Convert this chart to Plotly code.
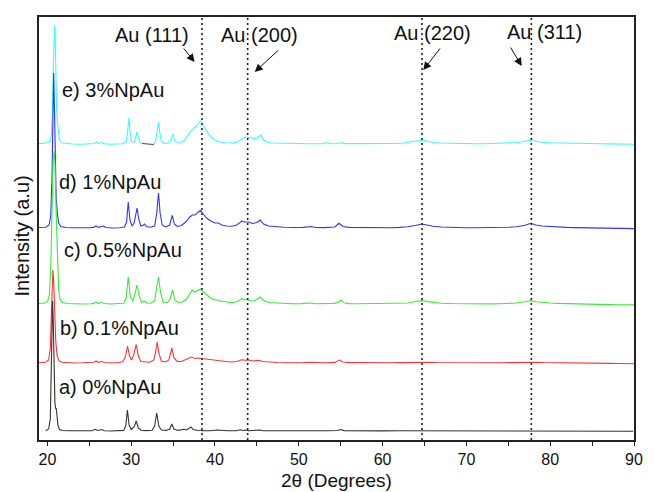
import plotly.graph_objects as go

# XRD patterns: (2theta, intensity above the pattern's own baseline, a.u.)
pattern_a = [
    [19.8, 0.3], [20.15, 2], [20.35, 12], [20.45, 45], [20.55, 105], [20.62, 130], [20.7, 110],
    [20.8, 55], [20.9, 28], [21.0, 22], [21.05, 23], [21.12, 18], [21.25, 6], [21.45, 1.5],
    [21.8, 0.5], [22.5, 0.2], [23.5, 0], [24.5, 0.1], [25.3, 0.3], [25.7, 1.7], [26.0, 0.5],
    [26.5, 1.5], [26.8, 0.3], [27.6, 0], [28.5, 0.2], [29.1, 0.6], [29.35, 5], [29.55, 21],
    [29.75, 6], [30.0, 1.5], [30.35, 4], [30.6, 10], [30.85, 3], [31.2, 0.7], [31.8, 0.4],
    [32.5, 0.8], [32.8, 5], [33.05, 18], [33.3, 5], [33.6, 1], [34.2, 0.6], [34.6, 2],
    [34.85, 7], [35.1, 2], [35.6, 0.6], [36.3, 1.8], [36.6, 1], [36.9, 2.5], [37.15, 4],
    [37.4, 1.5], [37.9, 0.7], [38.6, 0.4], [39.4, 0.3], [40.3, 1], [40.8, 0.4], [41.5, 0.3],
    [42.5, 0.2], [43.0, 1.2], [43.3, 0.5], [43.6, 1], [44.0, 0.3], [44.7, 0.4], [45.3, 1],
    [45.8, 0.3], [46.8, 0.2], [48.0, 0.4], [49.0, 0.2], [50.0, 0.2], [51.5, 0.4], [52.5, 0.1],
    [53.5, 0.2], [54.6, 0.5], [55.0, 1.5], [55.4, 0.4], [56.5, 0.2], [57.5, 0.4], [58.5, 0.2],
    [60.0, 0.1], [62.0, 0.2], [64.0, 0.2], [66.0, 0.1], [68.0, 0], [70.0, 0.1], [72.0, 0],
    [74.0, 0.1], [76.0, 0], [78.0, 0.1], [80.0, 0], [82.0, 0], [84.0, -0.1], [86.0, -0.1],
    [88.0, -0.2], [89.9, -0.2],
]

pattern_b = [
    [19.0, 0.3], [19.8, 0.8], [20.15, 3], [20.35, 15], [20.5, 55], [20.6, 85], [20.66, 93],
    [20.75, 82], [20.85, 52], [21.0, 22], [21.15, 8], [21.35, 2.5], [21.7, 0.8], [22.3, 0.3],
    [23.2, 0], [24.2, 0.2], [25.2, 0.4], [25.55, 0.8], [25.8, 2], [26.05, 0.7], [26.5, 1.5],
    [26.8, 0.5], [27.6, 0.2], [28.4, 0.3], [29.0, 1.2], [29.3, 6], [29.57, 17], [29.8, 7],
    [30.05, 3], [30.3, 8], [30.6, 18.5], [30.85, 7], [31.15, 1.5], [31.6, 1], [32.2, 0.8],
    [32.7, 3], [32.9, 10], [33.1, 21], [33.3, 10], [33.6, 2], [34.1, 1], [34.5, 3],
    [34.85, 15], [35.1, 5], [35.5, 1.5], [36.0, 1.5], [36.6, 3.5], [37.2, 6], [37.6, 4.5],
    [38.0, 5], [38.4, 4.5], [38.9, 4], [39.4, 3], [40.0, 2.2], [40.4, 2.5], [41.0, 1.5],
    [41.8, 1], [42.6, 1.5], [43.2, 3.3], [43.6, 2.8], [44.0, 3], [44.6, 2], [45.2, 2.8],
    [45.7, 1.5], [46.5, 0.8], [47.5, 0.5], [48.5, 0.3], [49.5, 0.2], [50.5, 0.4], [51.3, 0.8],
    [52.2, 0.3], [53.2, 0.2], [54.3, 0.6], [54.85, 3], [55.3, 1], [56.0, 0.4], [57.0, 0.5],
    [58.0, 0.3], [59.0, 0.2], [60.0, 0.3], [61.0, 0.2], [62.0, 0.4], [63.0, 0.5], [64.0, 0.9],
    [64.8, 1.2], [65.6, 0.8], [66.5, 0.5], [67.5, 0.4], [68.5, 0.2], [69.5, 0.3], [70.5, 0.2],
    [71.5, 0.1], [72.5, 0.2], [73.5, 0.1], [74.5, 0.3], [75.5, 0.4], [76.5, 0.6], [77.5, 1],
    [78.3, 0.8], [79.2, 0.5], [80.2, 0.3], [81.2, 0.2], [82.2, 0.1], [83.2, 0], [84.2, -0.1],
    [85.2, -0.2], [86.2, -0.3], [87.2, -0.4], [88.2, -0.5], [89.2, -0.6], [90.0, -0.8],
]

pattern_c = [
    [19.0, 0.5], [19.7, 1], [20.05, 3], [20.25, 10], [20.4, 35], [20.55, 95], [20.7, 145],
    [20.8, 153], [20.9, 140], [21.05, 90], [21.2, 40], [21.35, 14], [21.5, 5], [21.8, 1.5],
    [22.4, 0.5], [23.2, 0.2], [24.2, 0], [25.2, 0.3], [25.55, 0.6], [25.8, 2], [26.05, 0.7],
    [26.5, 1.5], [26.8, 0.5], [27.6, 0], [28.4, 0.2], [29.1, 0.8], [29.4, 6], [29.65, 27],
    [29.9, 7], [30.2, 3], [30.45, 10], [30.7, 19], [30.95, 8], [31.25, 1.5], [31.6, 3],
    [31.85, 1], [32.3, 0.8], [32.8, 3], [33.05, 17], [33.26, 27], [33.5, 12], [33.8, 2],
    [34.3, 1], [34.65, 5], [34.94, 14], [35.2, 4], [35.6, 1.5], [36.1, 2], [36.6, 5],
    [37.0, 11], [37.3, 14], [37.6, 12], [37.95, 14], [38.27, 15], [38.6, 12], [39.0, 9],
    [39.5, 6], [40.0, 4], [40.4, 4], [40.8, 2.5], [41.2, 2.5], [41.6, 1.5], [42.2, 1.5],
    [42.7, 2.5], [43.2, 5.5], [43.55, 4], [43.85, 4.5], [44.3, 3], [44.8, 3.5], [45.4, 7],
    [45.8, 3.5], [46.4, 1.5], [47.2, 1], [48.2, 0.6], [49.2, 0.3], [50.3, 0.4], [51.3, 1],
    [52.0, 0.3], [53.0, 0.2], [54.2, 0.6], [54.7, 1.5], [55.05, 4], [55.4, 1.2], [56.0, 0.4],
    [57.0, 0.3], [58.0, 0.4], [59.0, 0.2], [60.0, 0.2], [61.0, 0.3], [62.0, 0.5], [63.0, 1],
    [64.0, 2.5], [64.7, 3.4], [65.4, 2.4], [66.2, 1.3], [67.0, 0.8], [68.0, 0.5], [69.0, 0.3],
    [70.0, 0.2], [71.0, 0.1], [72.0, 0], [73.0, 0.1], [74.0, 0.2], [75.0, 0.5], [76.0, 1],
    [77.0, 2.3], [77.7, 3.4], [78.3, 2.3], [79.0, 1.5], [80.0, 1], [81.0, 0.6], [82.0, 0.3],
    [83.0, 0], [84.0, -0.2], [85.0, -0.4], [86.0, -0.5], [87.0, -0.6], [88.0, -0.7],
    [89.0, -0.8], [90.0, -0.9],
]

pattern_d = [
    [19.0, 0.5], [19.8, 0.8], [20.2, 3], [20.4, 12], [20.55, 50], [20.65, 110], [20.75, 155],
    [20.85, 118], [20.95, 60], [21.05, 30], [21.2, 14], [21.35, 5], [21.6, 1.5], [22.2, 0.5],
    [23.0, 0.2], [24.0, 0], [25.0, 0.3], [25.5, 0.6], [25.8, 2], [26.1, 0.6], [26.7, 2],
    [27.0, 0.5], [27.8, 0], [28.6, 0.3], [29.2, 1], [29.45, 6], [29.65, 26], [29.85, 8],
    [30.1, 2], [30.35, 5], [30.7, 20], [30.9, 9], [31.15, 2], [31.4, 2.5], [31.6, 4],
    [31.8, 1.5], [32.3, 0.8], [32.8, 2], [33.05, 15], [33.26, 35], [33.45, 15], [33.7, 3],
    [34.1, 1], [34.6, 3], [34.9, 12.7], [35.15, 4], [35.5, 1.5], [36.0, 2.5], [36.5, 6],
    [37.0, 11], [37.3, 13], [37.6, 13], [38.0, 16], [38.27, 17.7], [38.6, 14], [39.0, 10],
    [39.5, 7], [40.0, 5], [40.4, 5], [40.8, 3], [41.4, 2], [42.0, 1.8], [42.6, 3], [43.2, 7],
    [43.6, 6], [44.0, 6], [44.5, 4.5], [45.0, 5.5], [45.4, 8], [45.8, 4], [46.4, 2],
    [47.2, 1.2], [48.2, 0.8], [49.3, 0.5], [50.5, 0.6], [51.5, 1.5], [52.0, 0.5], [53.0, 0.4],
    [54.3, 1], [54.8, 4.7], [55.3, 1.5], [56.0, 0.6], [57.0, 0.4], [58.0, 0.3], [59.0, 0.4],
    [60.0, 0.2], [61.0, 0.3], [62.0, 0.6], [63.0, 1.3], [64.0, 2.8], [64.7, 4], [65.3, 3],
    [66.0, 1.8], [67.0, 1], [68.0, 0.6], [69.0, 0.4], [70.0, 0.3], [71.0, 0.2], [72.0, 0.2],
    [73.0, 0.3], [74.0, 0.4], [75.0, 0.7], [76.0, 1.2], [77.0, 2.8], [77.7, 4.7], [78.3, 3],
    [79.0, 2], [80.0, 1.4], [81.0, 1], [82.0, 0.6], [83.0, 0.4], [84.0, 0.2], [85.0, 0],
    [86.0, -0.2], [87.0, -0.3], [88.0, -0.4], [89.0, -0.5], [90.0, -0.6],
]

# the 3% pattern has a short stretch (31.3-32.7 deg) recorded separately
pattern_e = [
    [19.0, 0.3], [19.8, 0.6], [20.2, 1.5], [20.45, 6], [20.6, 30], [20.7, 75], [20.8, 112],
    [20.86, 119], [20.92, 110], [21.0, 72], [21.1, 36], [21.2, 22], [21.3, 12], [21.45, 4],
    [21.7, 1.2], [22.3, 0.3], [23.0, 0], [24.0, -0.3], [25.0, 0.2], [25.6, 0.5], [25.85, 2],
    [26.1, 0.5], [26.5, 1.5], [26.8, 0.3], [27.5, -0.2], [28.3, 0], [29.0, 0.3], [29.45, 3],
    [29.6, 14], [29.73, 26], [29.86, 12], [30.05, 2], [30.4, 2], [30.55, 7], [30.7, 12],
    [30.85, 7], [31.05, 1.5], [31.25, 0.5], [31.3, None], [32.7, 0], [32.9, 3], [33.1, 12],
    [33.26, 22], [33.4, 12], [33.6, 3], [33.9, 0.8], [34.4, 0.8], [34.75, 4], [34.98, 10],
    [35.2, 3], [35.6, 1], [36.0, 1.5], [36.4, 4], [36.8, 9], [37.1, 13], [37.4, 15],
    [37.8, 18], [38.05, 21], [38.25, 23], [38.5, 20], [38.9, 14], [39.4, 8], [40.0, 4],
    [40.6, 2], [41.2, 1.2], [42.0, 1], [42.7, 2], [43.2, 5], [43.7, 7], [44.2, 6], [44.7, 5.5],
    [45.1, 6], [45.45, 9], [45.8, 4], [46.3, 1.5], [47.0, 1], [48.0, 0.6], [49.0, 0.3],
    [50.0, 0.5], [51.0, 0.2], [52.0, 0.4], [52.8, 0.3], [53.3, 1.2], [53.8, 0.2], [54.6, 0.5],
    [55.05, 1.3], [55.5, 0.4], [56.5, 0.3], [57.5, 0.4], [58.5, 0.2], [59.5, 0.3], [60.5, 0.4],
    [61.5, 0.5], [62.5, 1], [63.5, 2], [64.2, 3.2], [64.7, 4], [65.3, 3], [66.0, 1.5],
    [67.0, 1], [68.0, 0.7], [69.0, 0.5], [70.0, 0.4], [71.0, 0.3], [72.0, 0.3], [73.0, 0.4],
    [74.0, 0.6], [75.0, 0.8], [76.0, 1.4], [76.8, 2.5], [77.3, 3.5], [77.75, 4], [78.3, 2.8],
    [79.0, 1.8], [80.0, 1.3], [81.0, 1], [82.0, 0.8], [83.0, 0.6], [84.0, 0.4], [85.0, 0.3],
    [86.0, 0.2], [87.0, 0.1], [88.0, 0], [89.0, 0], [90.0, -0.2],
]
pattern_e_segment = [[31.3, 0.5], [32.7, -0.5]]

sample_labels = ["a) 0%NpAu", "b) 0.1%NpAu", "c) 0.5%NpAu", "d) 1%NpAu", "e) 3%NpAu"]
stack_offsets = [9, 77, 136, 212, 296]
line_colors = ["#333333", "#FF3333", "#33F033", "#3333FF", "#33FFFF"]
patterns = [pattern_a, pattern_b, pattern_c, pattern_d, pattern_e]

# label anchor (2theta, stacked intensity) for each pattern name
label_pos = [[21.12, 53], [21.23, 112], [21.7, 190], [21.12, 258], [21.47, 350]]

# gold reflections
au_planes = ["Au (111)", "Au (200)", "Au (220)", "Au (311)"]
au_positions = [38.45, 43.9, 64.7, 77.75]
au_text_pos = [[32.52, 405], [45.33, 405], [65.9, 407], [79.3, 408]]
au_arrow_head = [[37.57, 378], [44.74, 368], [64.85, 370], [76.6, 374]]
au_arrow_tail = [[-12, -15], [25, -23], [18, -23], [-12, -20]]

FONT = "Liberation Sans, Arial, sans-serif"

fig = go.Figure()

# draw top pattern first so the lower ones sit above it
for i in reversed(range(len(patterns))):
    xs = [p[0] for p in patterns[i]]
    ys = [None if p[1] is None else p[1] + stack_offsets[i] for p in patterns[i]]
    fig.add_trace(go.Scatter(x=xs, y=ys, mode="lines", connectgaps=False,
                             line=dict(color=line_colors[i], width=1.1),
                             showlegend=False, hoverinfo="skip"))
    if i == 4:
        fig.add_trace(go.Scatter(x=[p[0] for p in pattern_e_segment],
                                 y=[p[1] + stack_offsets[4] for p in pattern_e_segment],
                                 mode="lines", line=dict(color="#444444", width=1.1),
                                 showlegend=False, hoverinfo="skip"))

for pos in au_positions:
    fig.add_shape(type="line", x0=pos, x1=pos, y0=0, y1=1, xref="x", yref="paper",
                  line=dict(color="#222222", width=1.6, dash="2px,3px"), layer="above")

annotations = []
for lbl, (lx, ly) in zip(sample_labels, label_pos):
    annotations.append(dict(x=lx, y=ly, xref="x", yref="y", text=lbl, showarrow=False,
                            xanchor="left", yanchor="middle",
                            font=dict(family=FONT, size=20, color="#111111")))
for name, (tx, ty), (hx, hy), (ax, ay) in zip(au_planes, au_text_pos, au_arrow_head, au_arrow_tail):
    annotations.append(dict(x=tx, y=ty, xref="x", yref="y", text=name, showarrow=False,
                            xanchor="center", yanchor="middle",
                            font=dict(family=FONT, size=20, color="#111111")))
    annotations.append(dict(x=hx, y=hy, xref="x", yref="y", text="", showarrow=True,
                            ax=ax, ay=ay, axref="pixel", ayref="pixel",
                            arrowhead=2, arrowsize=1.6, arrowwidth=1, arrowcolor="#111111"))

# axis titles
annotations.append(dict(x=0.5, y=-0.0965, xref="paper", yref="paper", text="2θ (Degrees)",
                        showarrow=False, xanchor="center", yanchor="middle", borderpad=0,
                        font=dict(family=FONT, size=19, color="#111111")))
annotations.append(dict(x=-0.028, y=0.482, xref="paper", yref="paper", text="Intensity (a.u)",
                        showarrow=False, textangle=-90, xanchor="center", yanchor="middle",
                        font=dict(family=FONT, size=20, color="#111111")))

fig.update_layout(
    width=654, height=492,
    margin=dict(l=39, r=11, t=17, b=52),
    paper_bgcolor="white", plot_bgcolor="white",
    annotations=annotations,
    xaxis=dict(range=[19, 90], tickmode="array", tickvals=[20, 30, 40, 50, 60, 70, 80, 90],
               ticks="outside", ticklen=4, tickwidth=1.2, tickcolor="#222222",
               minor=dict(tickvals=[25, 35, 45, 55, 65, 75, 85], ticks="outside", ticklen=4,
                          tickwidth=1.2, tickcolor="#222222"),
               showgrid=False, zeroline=False, showline=True, linecolor="#222222",
               linewidth=1.6, mirror=True,
               tickfont=dict(family=FONT, size=16, color="#111111")),
    yaxis=dict(range=[0, 423], showticklabels=False, ticks="", showgrid=False, zeroline=False,
               showline=True, linecolor="#222222", linewidth=1.6, mirror=True),
)

fig.write_html("out.html")
